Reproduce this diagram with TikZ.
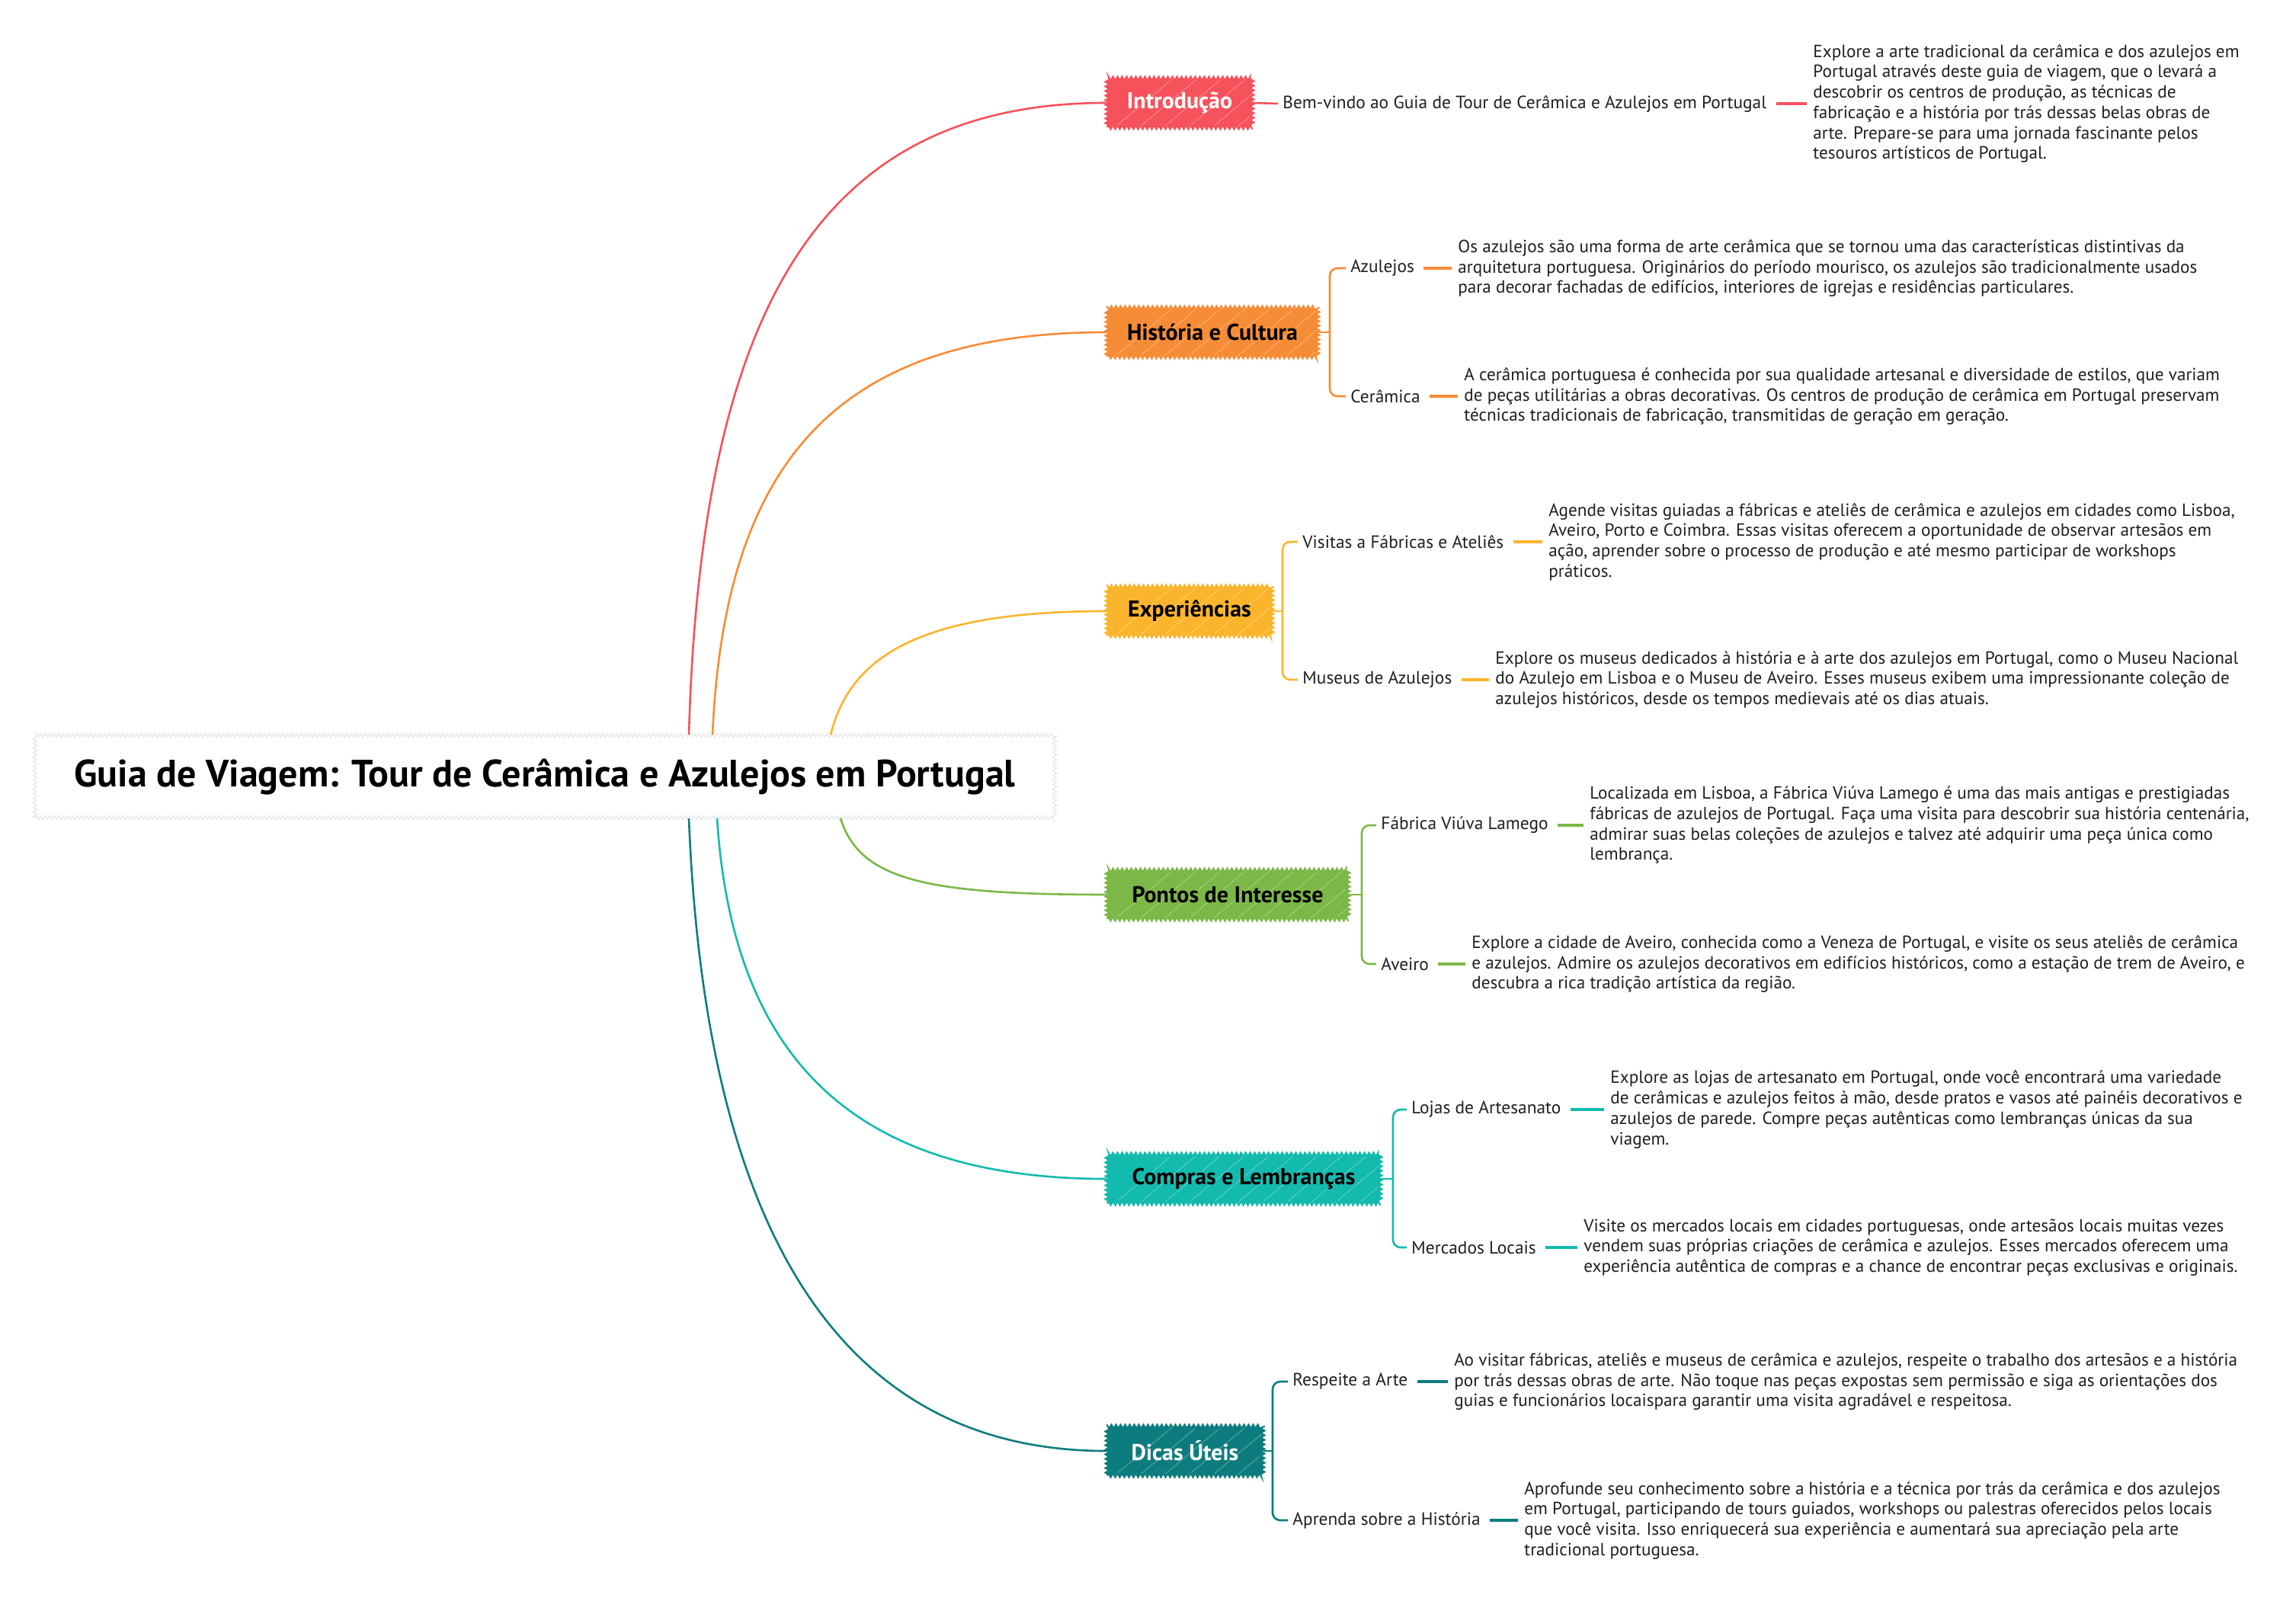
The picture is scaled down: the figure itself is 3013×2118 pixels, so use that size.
\documentclass[tikz,border=0pt]{standalone}
\usepackage{fontspec}
\setmainfont{PT Sans}
\usetikzlibrary{decorations.pathmorphing,calc}
\definecolor{cRed}{HTML}{F5525C}
\definecolor{cOrange}{HTML}{F78C36}
\definecolor{cYellow}{HTML}{FBB52C}
\definecolor{cGreen}{HTML}{7CB848}
\definecolor{cTeal}{HTML}{13BAAE}
\definecolor{cDark}{HTML}{0D7C7E}
\tikzset{
  branch/.style={anchor=west, inner xsep=12pt, inner ysep=0pt, minimum height=32pt,
    font=\fontsize{15}{18}\selectfont\bfseries, decorate,
    decoration={zigzag, segment length=3pt, amplitude=1.3pt}, line width=1pt,
    path picture={\foreach \k in {0,16,...,200} \draw[white,opacity=.3,line width=.5pt]
      ([xshift=\k pt,yshift=-4pt]path picture bounding box.south west) -- ++(40:70pt);}},
  child/.style={anchor=west, inner xsep=3pt, inner ysep=2pt, font=\fontsize{11.7}{14}\selectfont, text=black!88},
  desc/.style={anchor=west, inner sep=0pt, align=left, font=\fontsize{11.6}{13.35}\selectfont, text=black!88},
  link/.style={line width=1.3pt},
  brk/.style={line width=1.3pt, rounded corners=5pt},
  dsh/.style={line width=1.9pt, shorten <=3pt, shorten >=4pt},
  ttl/.style={fill=white, draw=black!8, line width=0.8pt, decorate,
    decoration={zigzag, segment length=3pt, amplitude=1.2pt},
    minimum width=669pt, minimum height=54pt, inner sep=0pt,
    font=\fontsize{25}{30}\selectfont\bfseries}
}
\begin{document}
\begin{tikzpicture}[x=0.5pt,y=-0.5pt]
\useasboundingbox[fill=white] (0,0) rectangle (3013,2118);
% title
\node[ttl] (title) at (715,1019) {Guia de Viagem: Tour de Cerâmica e Azulejos em Portugal};
% branches
\node[branch, fill=cRed, draw=cRed, text=white, minimum width=95pt] (intro) at (1452,135) {Introdução};
\node[branch, fill=cOrange, draw=cOrange, text=black, minimum width=138pt] (hist) at (1452,436) {História e Cultura};
\node[branch, fill=cYellow, draw=cYellow, text=black, minimum width=108pt] (exp) at (1452,802) {Experiências};
\node[branch, fill=cGreen, draw=cGreen, text=black, minimum width=158pt] (pon) at (1452,1174) {Pontos de Interesse};
\node[branch, fill=cTeal, draw=cTeal, text=black, minimum width=179pt] (com) at (1452,1547) {Compras e Lembranças};
\node[branch, fill=cDark, draw=cDark, text=white, minimum width=102pt] (dic) at (1452,1904) {Dicas Úteis};
% main curves
\draw[link, cRed] ([xshift=94.5pt]title.north) .. controls +(16,-566) and +(-372,0) .. (intro.west);
\draw[link, cOrange] ([xshift=110pt]title.north) .. controls +(16,-361) and +(-351,0) .. (hist.west);
\draw[link, cYellow] ([xshift=187.5pt]title.north) .. controls +(25,-100) and +(-250,0) .. (exp.west);
\draw[link, cGreen] ([xshift=194pt]title.south) .. controls +(25,80) and +(-240,0) .. (pon.west);
\draw[link, cTeal] ([xshift=113pt]title.south) .. controls +(20,314) and +(-332,0) .. (com.west);
\draw[link, cDark] ([xshift=94.5pt]title.south) .. controls +(21,530) and +(-356,0) .. (dic.west);

% ---- Introducao
\node[child] (bem) at (1677,136) {Bem-vindo ao Guia de Tour de Cerâmica e Azulejos em Portugal};
\draw[brk, cRed] (intro.east) -- (bem.west);
\node[desc] (bemd) at (2379,136) {Explore a arte tradicional da cerâmica e dos azulejos em\\
Portugal através deste guia de viagem, que o levará a\\
descobrir os centros de produção, as técnicas de\\
fabricação e a história por trás dessas belas obras de\\
arte. Prepare-se para uma jornada fascinante pelos\\
tesouros artísticos de Portugal.};
\draw[dsh, cRed] (bem.east) -- (bemd.west);

% ---- Historia e Cultura
\coordinate (hb) at (1745,436);
\node[child] (azu) at (1766,352) {Azulejos};
\node[child] (cer) at (1766,520) {Cerâmica};
\draw[brk, cOrange] (hist.east) -- (hb);
\draw[brk, cOrange] (azu.west) -- (azu.west -| hb) -- (cer.west -| hb) -- (cer.west);
\node[desc] (azud) at (1913,352) {Os azulejos são uma forma de arte cerâmica que se tornou uma das características distintivas da\\
arquitetura portuguesa. Originários do período mourisco, os azulejos são tradicionalmente usados\\
para decorar fachadas de edifícios, interiores de igrejas e residências particulares.};
\node[desc] (cerd) at (1921,520) {A cerâmica portuguesa é conhecida por sua qualidade artesanal e diversidade de estilos, que variam\\
de peças utilitárias a obras decorativas. Os centros de produção de cerâmica em Portugal preservam\\
técnicas tradicionais de fabricação, transmitidas de geração em geração.};
\draw[dsh, cOrange] (azu.east) -- (azud.west);
\draw[dsh, cOrange] (cer.east) -- (cerd.west);

% ---- Experiencias
\coordinate (eb) at (1683,802);
\node[child] (vis) at (1703,711) {Visitas a Fábricas e Ateliês};
\node[child] (mus) at (1703,892) {Museus de Azulejos};
\draw[brk, cYellow] (exp.east) -- (eb);
\draw[brk, cYellow] (vis.west) -- (vis.west -| eb) -- (mus.west -| eb) -- (mus.west);
\node[desc] (visd) at (2032,711) {Agende visitas guiadas a fábricas e ateliês de cerâmica e azulejos em cidades como Lisboa,\\
Aveiro, Porto e Coimbra. Essas visitas oferecem a oportunidade de observar artesãos em\\
ação, aprender sobre o processo de produção e até mesmo participar de workshops\\
práticos.};
\node[desc] (musd) at (1962,892) {Explore os museus dedicados à história e à arte dos azulejos em Portugal, como o Museu Nacional\\
do Azulejo em Lisboa e o Museu de Aveiro. Esses museus exibem uma impressionante coleção de\\
azulejos históricos, desde os tempos medievais até os dias atuais.};
\draw[dsh, cYellow] (vis.east) -- (visd.west);
\draw[dsh, cYellow] (mus.east) -- (musd.west);

% ---- Pontos de Interesse
\coordinate (pb) at (1787,1174);
\node[child] (fab) at (1806,1083) {Fábrica Viúva Lamego};
\node[child] (ave) at (1806,1265) {Aveiro};
\draw[brk, cGreen] (pon.east) -- (pb);
\draw[brk, cGreen] (fab.west) -- (fab.west -| pb) -- (ave.west -| pb) -- (ave.west);
\node[desc] (fabd) at (2086,1083) {Localizada em Lisboa, a Fábrica Viúva Lamego é uma das mais antigas e prestigiadas\\
fábricas de azulejos de Portugal. Faça uma visita para descobrir sua história centenária,\\
admirar suas belas coleções de azulejos e talvez até adquirir uma peça única como\\
lembrança.};
\node[desc] (aved) at (1931,1265) {Explore a cidade de Aveiro, conhecida como a Veneza de Portugal, e visite os seus ateliês de cerâmica\\
e azulejos. Admire os azulejos decorativos em edifícios históricos, como a estação de trem de Aveiro, e\\
descubra a rica tradição artística da região.};
\draw[dsh, cGreen] (fab.east) -- (fabd.west);
\draw[dsh, cGreen] (ave.east) -- (aved.west);

% ---- Compras e Lembrancas
\coordinate (cb) at (1828,1547);
\node[child] (loj) at (1846,1456) {Lojas de Artesanato};
\node[child] (mer) at (1846,1637) {Mercados Locais};
\draw[brk, cTeal] (com.east) -- (cb);
\draw[brk, cTeal] (loj.west) -- (loj.west -| cb) -- (mer.west -| cb) -- (mer.west);
\node[desc] (lojd) at (2113,1456) {Explore as lojas de artesanato em Portugal, onde você encontrará uma variedade\\
de cerâmicas e azulejos feitos à mão, desde pratos e vasos até painéis decorativos e\\
azulejos de parede. Compre peças autênticas como lembranças únicas da sua\\
viagem.};
\node[desc] (merd) at (2078,1637) {Visite os mercados locais em cidades portuguesas, onde artesãos locais muitas vezes\\
vendem suas próprias criações de cerâmica e azulejos. Esses mercados oferecem uma\\
experiência autêntica de compras e a chance de encontrar peças exclusivas e originais.};
\draw[dsh, cTeal] (loj.east) -- (lojd.west);
\draw[dsh, cTeal] (mer.east) -- (merd.west);

% ---- Dicas Uteis
\coordinate (db) at (1670,1904);
\node[child] (res) at (1690,1813) {Respeite a Arte};
\node[child] (apr) at (1690,1995) {Aprenda sobre a História};
\draw[brk, cDark] (dic.east) -- (db);
\draw[brk, cDark] (res.west) -- (res.west -| db) -- (apr.west -| db) -- (apr.west);
\node[desc] (resd) at (1908,1813) {Ao visitar fábricas, ateliês e museus de cerâmica e azulejos, respeite o trabalho dos artesãos e a história\\
por trás dessas obras de arte. Não toque nas peças expostas sem permissão e siga as orientações dos\\
guias e funcionários locaispara garantir uma visita agradável e respeitosa.};
\node[desc] (aprd) at (2000,1995) {Aprofunde seu conhecimento sobre a história e a técnica por trás da cerâmica e dos azulejos\\
em Portugal, participando de tours guiados, workshops ou palestras oferecidos pelos locais\\
que você visita. Isso enriquecerá sua experiência e aumentará sua apreciação pela arte\\
tradicional portuguesa.};
\draw[dsh, cDark] (res.east) -- (resd.west);
\draw[dsh, cDark] (apr.east) -- (aprd.west);
\end{tikzpicture}
\end{document}
